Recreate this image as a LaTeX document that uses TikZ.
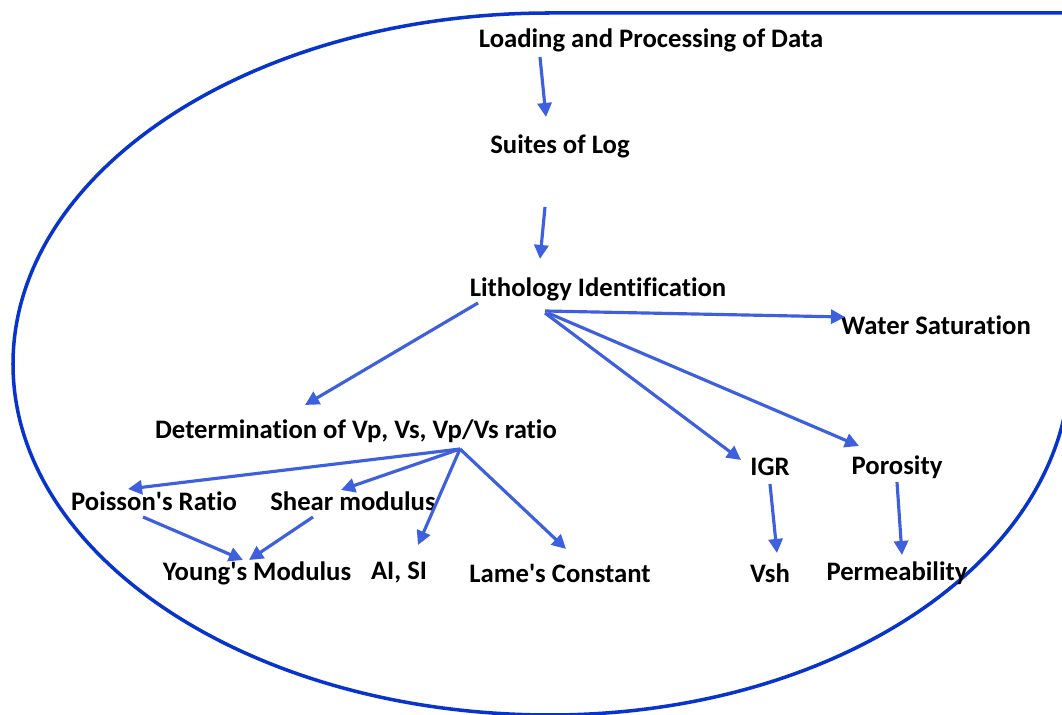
\documentclass[tikz,border=0pt]{standalone}
\usepackage{fontspec}
\setmainfont{Carlito}[Ligatures={NoCommon}]
\usetikzlibrary{positioning, arrows.meta, calc}
\definecolor{arrowblue}{RGB}{62,96,222}
\definecolor{ringblue}{RGB}{8,52,204}

\begin{document}
\begin{tikzpicture}[x=0.02cm, y=-0.02cm,
    lbl/.style={font=\bfseries\fontsize{15.2}{18}\selectfont, inner sep=1pt},
    flow/.style={draw=arrowblue, line width=1.8pt, -{Triangle[length=8pt,width=8pt]}}]
  \useasboundingbox (0,0) rectangle (1062,715);

  % Outline
  \begin{scope}
    \clip (0,0) rectangle (1062,715);
    \draw[ringblue, line width=2pt] (1070,13) -- (550,13)
      arc[start angle=-90, end angle=-270, x radius=537, y radius=351]
      arc[start angle=-270, end angle=-360, x radius=520, y radius=351];
  \end{scope}

  % Nodes
  \node[lbl] (load) at (651,40) {Loading and Processing of Data};
  \node[lbl] (suites) at (560,146) {Suites of Log};
  \node[lbl] (litho) at (598,289) {Lithology Identification};
  \node[lbl] (water) at (936,325) {Water Saturation};
  \node[lbl] (vpvs) at (356,431) {Determination of Vp, Vs, Vp/Vs ratio};
  \node[lbl] (poisson) at (154,501) {Poisson{\textquotesingle}s Ratio};
  \node[lbl] (shear) at (353,501) {Shear modulus};
  \node[lbl] (young) at (257,573) {Young{\textquotesingle}s Modulus};
  \node[lbl] (aisi) at (399,573) {AI, SI};
  \node[lbl] (lame) at (560,573) {Lame{\textquotesingle}s Constant};
  \node[lbl] (igr) at (770,467) {IGR};
  \node[lbl] (poro) at (897,467) {Porosity};
  \node[lbl] (vsh) at (770,573) {Vsh};
  \node[lbl] (perm) at (897,573) {Permeability};

  % Arrows
  \foreach \a/\ax/\ay/\b/\bx/\by in {load/-111/17/suites/-14/-29,
      suites/-15/61/litho/-58/-30,
      litho/-120/14/vpvs/-51/-26,
      litho/-53/22/water/-91/-8,
      litho/-53/24/igr/-29/-7,
      litho/-50/24/poro/-38/-21,
      vpvs/104/18/poisson/-26/-12,
      vpvs/104/18/shear/-12/-11,
      vpvs/104/18/aisi/19/-28,
      vpvs/104/18/lame/6/-24,
      poisson/-11/16/young/-14/-13,
      shear/-40/16/young/-8/-13,
      igr/0/17/vsh/7/-20,
      poro/0/15/perm/5/-18}
  \draw[flow] ($(\a)+(\ax,\ay)$) -- ($(\b)+(\bx,\by)$);
\end{tikzpicture}
\end{document}
